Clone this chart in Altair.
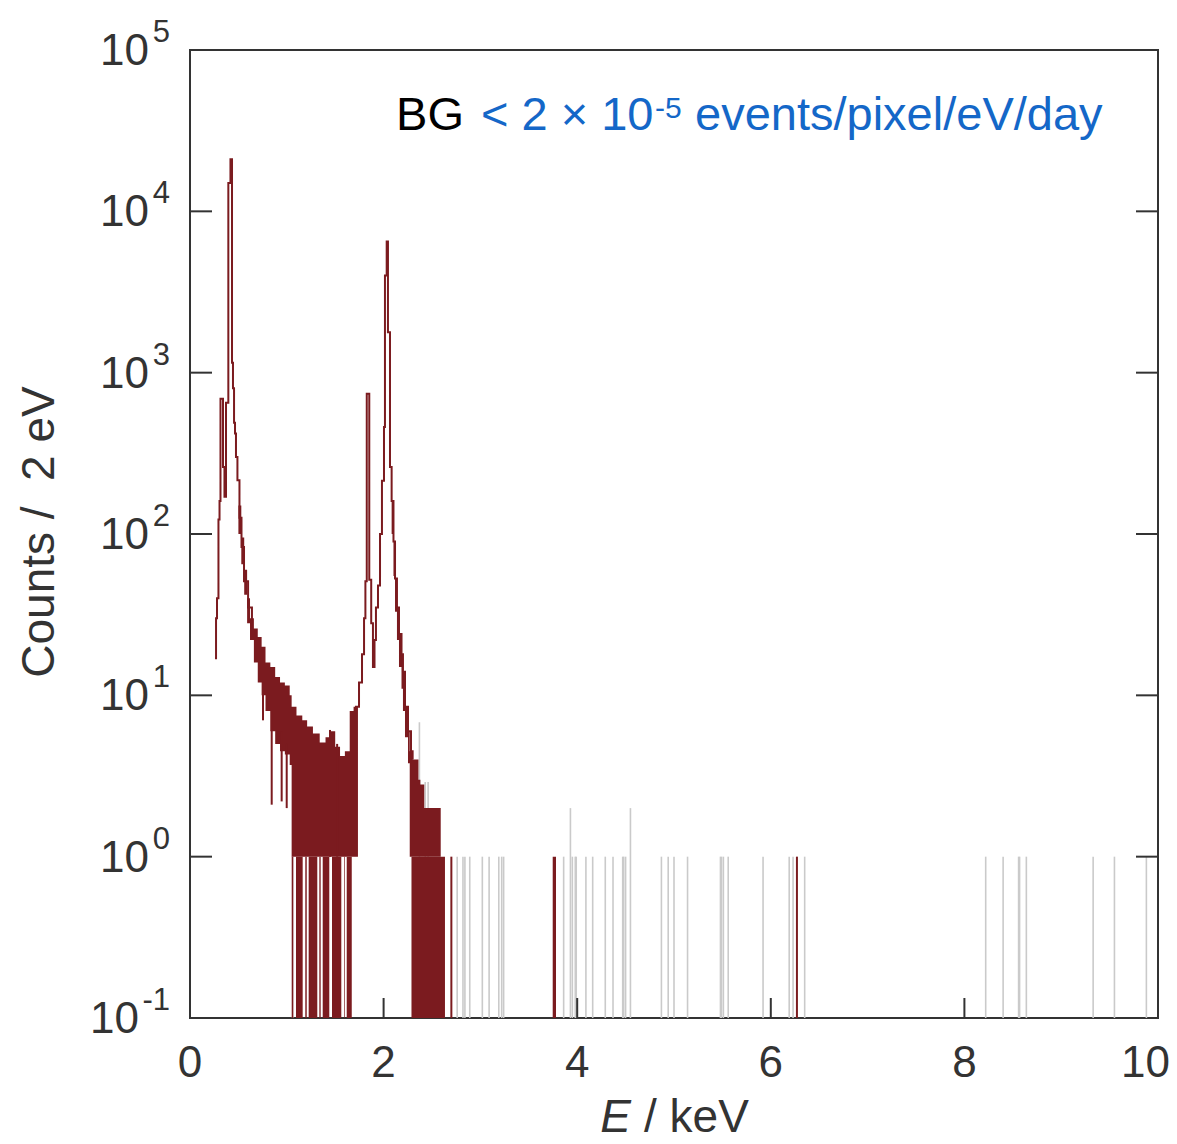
import altair as alt
import pandas as pd

RED = "#7b1b1f"
GREY = "#cacaca"
BLUE = "#1467c8"
INK = "#333333"
FONT = "Liberation Sans"

# ---------------- data (energy in keV, counts per 2 eV bin) ----------------
# step outline, low-energy peak
seg1_E = [0.258, 0.269, 0.279, 0.294, 0.305, 0.315, 0.341, 0.356, 0.372, 0.396,
          0.418, 0.434, 0.444, 0.455, 0.465, 0.475, 0.490, 0.511, 0.532, 0.558,
          0.600, 0.640]
seg1_C = [17, 30, 40, 123, 160, 690, 260, 170, 650, 15000,
          21000, 1150, 800, 490, 420, 300, 215, 126, 83, 51,
          35, 29]
# step outline, 2 keV peaks
seg2_E = [1.700, 1.715, 1.746, 1.777, 1.798, 1.812, 1.826, 1.852, 1.872, 1.890,
          1.906, 1.921, 1.942, 1.963, 1.983, 2.004, 2.014, 2.032, 2.045, 2.066,
          2.083, 2.102, 2.118, 2.138, 2.159, 2.185, 2.200, 2.221, 2.252, 2.283, 2.300]
seg2_C = [8, 8.5, 12, 18, 30, 51, 740, 52, 28, 15,
          22, 35, 48, 100, 214, 460, 4000, 6500, 1780, 260,
          160, 90, 53, 35, 24, 18, 14, 8.5, 6, 4.5, 4]

# noisy band (upper / lower envelope) of the low-energy tail
bandA_E = [0.50, 0.53, 0.56, 0.59, 0.62, 0.66, 0.70, 0.74, 0.78, 0.83,
           0.88, 0.93, 0.98, 1.03, 1.05, 1.10, 1.16, 1.21, 1.27, 1.34,
           1.40, 1.45, 1.50, 1.55, 1.60, 1.65, 1.69, 1.735]
bandA_hi = [150, 95, 60, 40, 30, 26, 23, 20, 16, 15,
            13, 12, 11.5, 10, 8.5, 7.5, 7, 6.4, 5.8, 5.1,
            5.5, 6.0, 4.8, 4.2, 4.5, 8.0, 8.5, 8.5]
bandA_lo = [100, 65, 42, 28, 22, 16, 12, 10, 8, 6,
            5, 4.5, 4.3, 3.7, 1, 1, 1, 1, 1, 1,
            1, 1, 1, 1, 1, 1, 1, 1]
# noisy band of the 2 keV tail
bandB_E = [2.083, 2.102, 2.118, 2.138, 2.159, 2.185, 2.200, 2.221, 2.252, 2.270,
           2.300, 2.330, 2.360, 2.380, 2.420, 2.470, 2.500, 2.550, 2.590, 2.635]
bandB_hi = [160, 90, 53, 35, 24, 18, 14, 8.5, 6, 4.5,
            4, 4, 3, 2.8, 2, 2, 2, 2, 1, 1]
bandB_lo = [100, 55, 33, 22, 15, 11, 8, 5.5, 3.8, 1,
            1, 1, 1, 1, 1, 1, 1, 1, 1, 1]

# stretches of empty bins (histogram drops to the floor)
empty_E0 = [1.051, 1.095, 1.191, 1.226, 1.336, 1.371, 1.467, 1.591, 1.619, 2.288]
empty_E1 = [1.067, 1.164, 1.206, 1.315, 1.350, 1.439, 1.563, 1.598, 1.671, 2.634]

# deep dips inside the noisy band
dip_E = [0.754, 0.844, 0.947, 0.999, 1.446, 1.52]
dip_lo = [7, 2.1, 2.2, 2.0, 1.0, 1.0]
dip_hi = [12, 8, 6, 5, 6.1, 5]

# second (grey) histogram: isolated events
grey_E = [1.06, 2.37, 2.43, 2.46, 2.76, 2.82, 2.84, 2.89, 3.02, 3.09,
          3.19, 3.22, 3.24, 3.86, 3.93, 3.95, 3.98, 3.99, 4.09, 4.16,
          4.29, 4.37, 4.47, 4.48, 4.50, 4.55, 4.87, 4.94, 5.00, 5.14,
          5.48, 5.49, 5.51, 5.56, 5.92, 6.19, 6.23, 6.35, 8.22, 8.40,
          8.56, 8.57, 8.64, 9.33, 9.55, 9.88]
grey_C = [1, 6.8, 2.9, 2.9, 1, 1, 1, 1, 1, 1,
          1, 1, 1, 1, 2, 1, 1, 1, 1, 1,
          1, 1, 1, 1, 1, 2, 1, 1, 1, 1,
          1, 1, 1, 1, 1, 1, 1, 1, 1, 1,
          1, 1, 1, 1, 1, 1]

# isolated red events
red_E = [2.70, 6.27]
red_C = [1, 1]
redblock_E0 = [3.747]
redblock_E1 = [3.781]
redblock_C = [1]

FLOOR = 0.1
y_tick_vals = [0.1, 1, 10, 100, 1000, 10000, 100000]
y_tick_exp = ["-1", "0", "1", "2", "3", "4", "5"]
inner_y_ticks = [1, 10, 100, 1000, 10000]
x_tick_vals = [0, 2, 4, 6, 8, 10]
x_tick_text = ["0", "2", "4", "6", "8", "10"]
inner_x_ticks = [2, 4, 6, 8]

# ---------------- scales / encodings ----------------
xscale = alt.Scale(domain=[0, 10], nice=False, zero=False)
yscale = alt.Scale(type="log", domain=[0.1, 100000], nice=False)


def X(f):
    return alt.X(f, type="quantitative", scale=xscale, axis=None)


def Y(f):
    return alt.Y(f, type="quantitative", scale=yscale, axis=None)


seg = pd.DataFrame({"E": seg1_E + seg2_E, "C": seg1_C + seg2_C,
                    "s": ["a"] * len(seg1_E) + ["b"] * len(seg2_E)})
bands = pd.DataFrame({"E": bandA_E + bandB_E, "hi": bandA_hi + bandB_hi, "lo": bandA_lo + bandB_lo,
                      "s": ["a"] * len(bandA_E) + ["b"] * len(bandB_E)})
empties = pd.DataFrame({"E0": empty_E0, "E1": empty_E1, "top": [1] * len(empty_E0),
                        "bot": [FLOOR] * len(empty_E0)})
dips = pd.DataFrame({"E": dip_E, "lo": dip_lo, "hi": dip_hi})
greys = pd.DataFrame({"E": grey_E, "C": grey_C, "bot": [FLOOR] * len(grey_E)})
reds = pd.DataFrame({"E": red_E, "C": red_C, "bot": [FLOOR] * len(red_E)})
redblock = pd.DataFrame({"E0": redblock_E0, "E1": redblock_E1, "C": redblock_C,
                         "bot": [FLOOR] * len(redblock_C)})
ylabs = pd.DataFrame({"v": y_tick_vals, "exp": y_tick_exp, "base": ["10"] * len(y_tick_vals)})
xlabs = pd.DataFrame({"v": x_tick_vals, "t": x_tick_text})
yt = pd.DataFrame({"v": inner_y_ticks})
xt = pd.DataFrame({"v": inner_x_ticks})

grey_layer = alt.Chart(greys).mark_rule(color=GREY, strokeWidth=1.6).encode(
    x=X("E"), y=Y("C"), y2="bot")
band_layer = alt.Chart(bands).mark_area(color=RED, opacity=1, interpolate="step-after").encode(
    x=X("E"), y=Y("hi"), y2="lo", detail="s")
empty_layer = alt.Chart(empties).mark_rect(color=RED).encode(
    x=X("E0"), x2="E1", y=Y("top"), y2="bot")
dip_layer = alt.Chart(dips).mark_rule(color=RED, strokeWidth=2).encode(
    x=X("E"), y=Y("hi"), y2="lo")
line_layer = alt.Chart(seg).mark_line(color=RED, strokeWidth=2, interpolate="step-after").encode(
    x=X("E"), y=Y("C"), detail="s")
red_layer = alt.Chart(reds).mark_rule(color=RED, strokeWidth=2).encode(
    x=X("E"), y=Y("C"), y2="bot")
redblock_layer = alt.Chart(redblock).mark_rect(color=RED).encode(
    x=X("E0"), x2="E1", y=Y("C"), y2="bot")

tick_left = alt.Chart(yt).mark_rule(color=INK, strokeWidth=2).encode(
    y=Y("v"), x=alt.value(0), x2=alt.value(22))
tick_right = alt.Chart(yt).mark_rule(color=INK, strokeWidth=2).encode(
    y=Y("v"), x=alt.value(946), x2=alt.value(968))
tick_bottom = alt.Chart(xt).mark_rule(color=INK, strokeWidth=2).encode(
    x=X("v"), y=alt.value(948), y2=alt.value(968))

# x tick labels
xlab_mid = alt.Chart(xlabs).transform_filter("datum.v < 10").mark_text(
    font=FONT, fontSize=44, color=INK, align="center", baseline="top").encode(
    x=X("v"), y=alt.value(992), text="t:N")
xlab_end = alt.Chart(xlabs).transform_filter("datum.v >= 10").mark_text(
    font=FONT, fontSize=44, color=INK, align="right", baseline="top", dx=12).encode(
    x=X("v"), y=alt.value(992), text="t:N")

# y tick labels (10 with superscript exponent)
ylab_base_pos = alt.Chart(ylabs).transform_filter("datum.v >= 1").mark_text(
    font=FONT, fontSize=44, color=INK, align="right", baseline="middle", dy=2).encode(
    y=Y("v"), x=alt.value(-41), text="base:N")
ylab_base_neg = alt.Chart(ylabs).transform_filter("datum.v < 1").mark_text(
    font=FONT, fontSize=44, color=INK, align="right", baseline="middle", dy=2).encode(
    y=Y("v"), x=alt.value(-51), text="base:N")
ylab_exp = alt.Chart(ylabs).mark_text(
    font=FONT, fontSize=31, color=INK, align="right", baseline="middle", dy=-17).encode(
    y=Y("v"), x=alt.value(-20), text="exp:N")

ytitle = alt.Chart(pd.DataFrame({"t": ["Counts /\u00a0\u00a02 eV"]})).mark_text(
    font=FONT, fontSize=46, color=INK, angle=270, align="center", baseline="middle").encode(
    x=alt.value(-150), y=alt.value(482), text="t:N")
xtitle_E = alt.Chart(pd.DataFrame({"t": ["E"]})).mark_text(
    font=FONT, fontSize=46, fontStyle="italic", color=INK, align="right", baseline="alphabetic").encode(
    x=alt.value(441), y=alt.value(1082), text="t:N")
xtitle_rest = alt.Chart(pd.DataFrame({"t": ["/ keV"]})).mark_text(
    font=FONT, fontSize=46, color=INK, align="left", baseline="alphabetic").encode(
    x=alt.value(454), y=alt.value(1082), text="t:N")

ann_bg = alt.Chart(pd.DataFrame({"t": ["BG"]})).mark_text(
    font=FONT, fontSize=47, color="#000000", align="right", baseline="alphabetic").encode(
    x=alt.value(274), y=alt.value(80), text="t:N")
ann_1 = alt.Chart(pd.DataFrame({"t": ["< 2 \u00d7 10"]})).mark_text(
    font=FONT, fontSize=47, color=BLUE, align="left", baseline="alphabetic").encode(
    x=alt.value(291), y=alt.value(80), text="t:N")
ann_exp = alt.Chart(pd.DataFrame({"t": ["-5"]})).mark_text(
    font=FONT, fontSize=30, color=BLUE, align="left", baseline="alphabetic").encode(
    x=alt.value(465), y=alt.value(68), text="t:N")
ann_2 = alt.Chart(pd.DataFrame({"t": ["events/pixel/eV/day"]})).mark_text(
    font=FONT, fontSize=47, color=BLUE, align="left", baseline="alphabetic").encode(
    x=alt.value(505), y=alt.value(80), text="t:N")

chart = alt.layer(
    grey_layer, band_layer, empty_layer, dip_layer, line_layer, red_layer, redblock_layer,
    tick_left, tick_right, tick_bottom, xlab_mid, xlab_end,
    ylab_base_pos, ylab_base_neg, ylab_exp, ytitle, xtitle_E, xtitle_rest,
    ann_bg, ann_1, ann_exp, ann_2,
).properties(
    width=968, height=968,
    autosize=alt.AutoSizeParams(type="none"),
    padding={"left": 190, "top": 50, "right": 19, "bottom": 126},
    background="white",
).configure_view(stroke=INK, strokeWidth=2)

chart.save("out.html", embed_options={"renderer": "svg", "actions": False})
